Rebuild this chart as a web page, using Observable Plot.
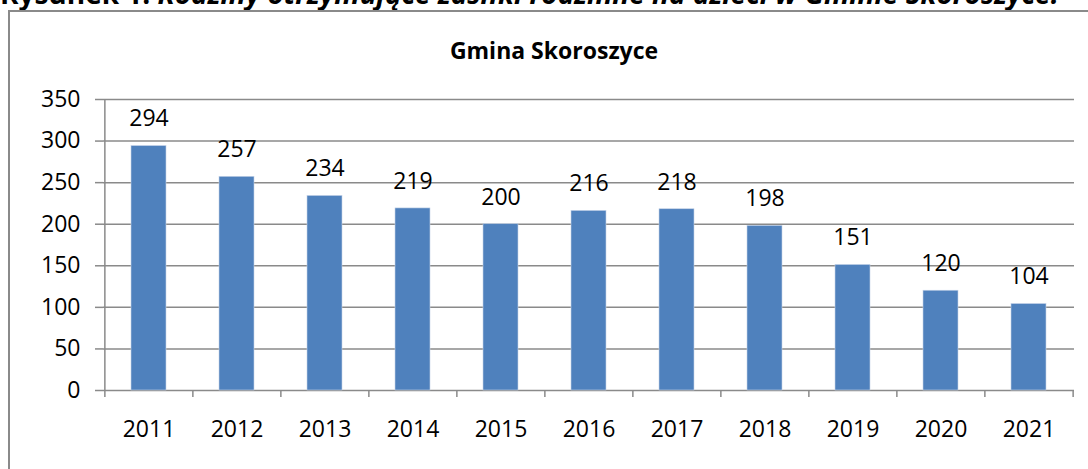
<!DOCTYPE html>
<html>
<head>
<meta charset="utf-8">
<script src="https://cdn.jsdelivr.net/npm/d3@7"></script>
<script src="https://cdn.jsdelivr.net/npm/@observablehq/plot@0.6"></script>
<style>
  html, body { margin: 0; padding: 0; background: #fff; overflow: hidden; }
  body { width: 1088px; height: 469px; position: relative; font-family: "Open Sans", sans-serif; }
  #caption { position: absolute; left: 0px; top: -21px; font-size: 28px; line-height: 28px; font-weight: bold; white-space: nowrap; color: #000; }
  #caption i { font-style: italic; }
  #box { position: absolute; left: 8px; top: 10px; width: 1200px; height: 600px; border-left: 2px solid #8a8a8a; border-top: 2px solid #8a8a8a; z-index: 2; pointer-events: none; }
  #title { position: absolute; left: 0; width: 1108px; top: 34px; text-align: center; font-size: 23px; font-weight: bold; color: #000; }
  #chart { position: absolute; left: 0; top: 70px; z-index: 1; }
</style>
</head>
<body>
<div id="caption">Rysunek 1. <i>Rodziny otrzymujące zasiłki rodzinne na dzieci w Gminie Skoroszyce.</i></div>
<div id="title">Gmina Skoroszyce</div>
<div id="chart"></div>
<div id="box"></div>
<script>
const years = ["2011","2012","2013","2014","2015","2016","2017","2018","2019","2020","2021"];
const values = [294, 257, 234, 219, 200, 216, 218, 198, 151, 120, 104];
const yTicks = [0, 50, 100, 150, 200, 250, 300, 350];

const data = years.map((y, i) => ({year: y, value: values[i]}));

const W = 1088, H = 399;
const mL = 103, mR = 14, mT = 29, mB = 79;
const step = (W - mL - mR) / years.length;
const gray = "#8a8a8a";
const yMax = yTicks[yTicks.length - 1];
const fs = 23;

const chart = Plot.plot({
  width: W, height: H,
  marginLeft: mL, marginRight: mR, marginTop: mT, marginBottom: mB,
  style: {fontFamily: "'Open Sans', sans-serif", fontSize: fs + "px", color: "#000", background: "transparent"},
  x: {type: "band", domain: years, paddingInner: 0.6, paddingOuter: 0.3, label: null},
  y: {domain: [0, yMax], label: null},
  marks: [
    Plot.ruleY(yTicks, {stroke: gray, strokeWidth: 1.5}),
    Plot.ruleX([years[0]], {x: d => d, dx: -step / 2, y1: 0, y2: yMax, stroke: gray, strokeWidth: 1.5}),
    Plot.barY(data, {x: "year", y: "value", fill: "#4F81BD", stroke: "#c5d3e8", strokeWidth: 0.6}),
    Plot.text(data, {x: "year", y: "value", text: d => String(d.value), dy: -27, fontSize: fs, fill: "#000"}),
    Plot.axisY({ticks: yTicks, tickSize: 8, tickPadding: 15, stroke: gray, strokeWidth: 1.5, fontSize: fs, fill: "#000", label: null}),
    Plot.axisX({tickSize: 7, dx: -step / 2, tickFormat: () => "", stroke: gray, strokeWidth: 1.5, label: null}),
    Plot.axisX({ticks: [years[years.length - 1]], tickSize: 7, dx: step / 2, tickFormat: () => "", stroke: gray, strokeWidth: 1.5, label: null}),
    Plot.axisX({tickSize: 0, tickPadding: 30, fontSize: fs, fill: "#000", label: null})
  ]
});
document.getElementById("chart").appendChild(chart);
</script>
</body>
</html>
